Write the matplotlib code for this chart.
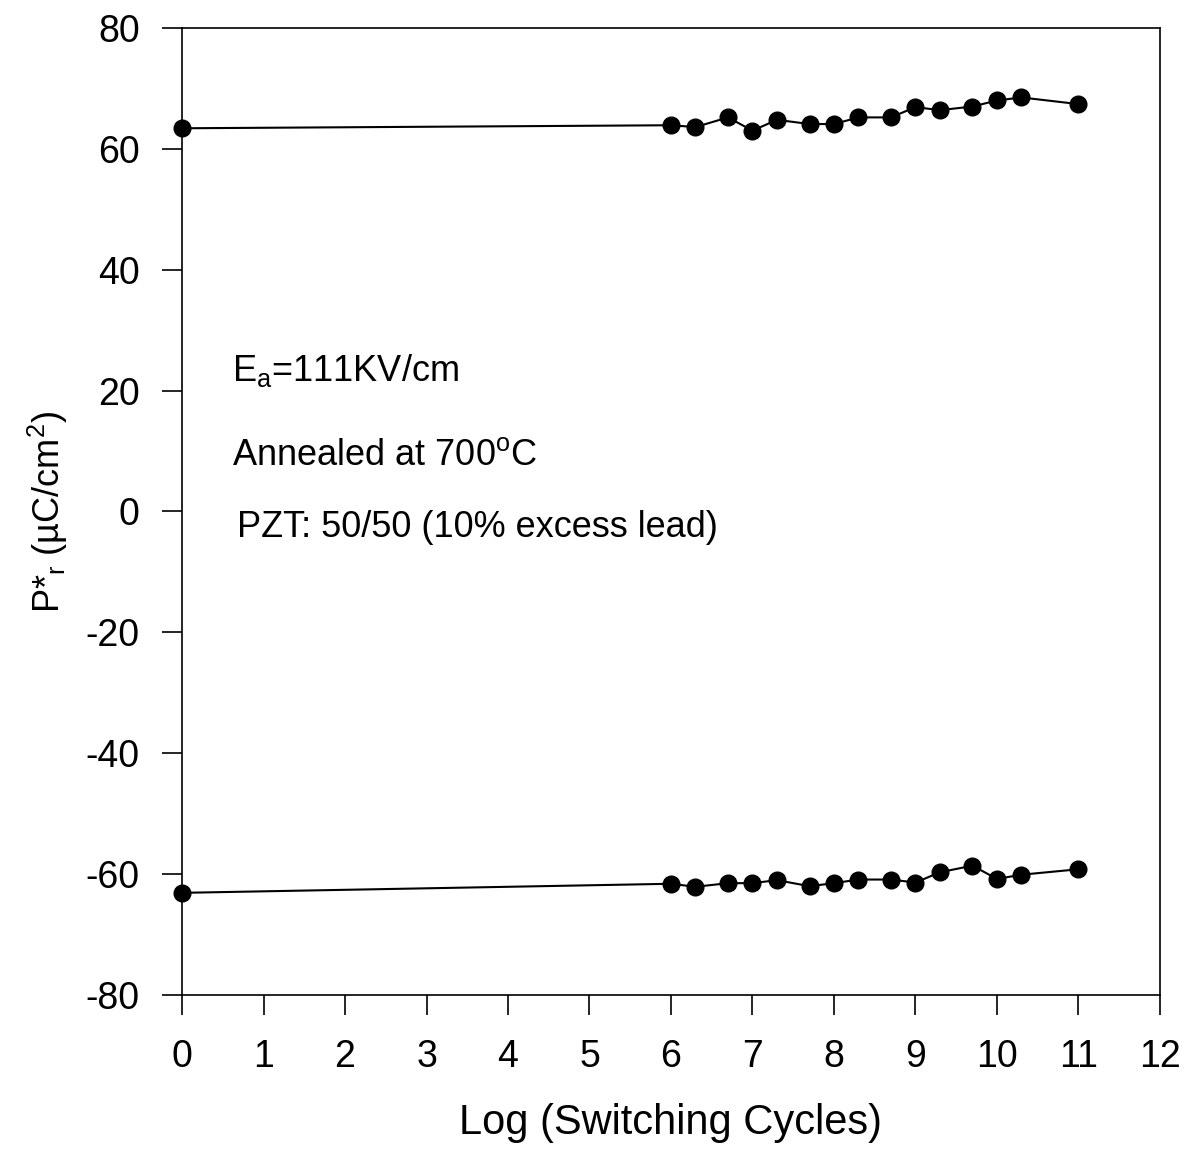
import matplotlib
matplotlib.use("Agg")
import matplotlib.pyplot as plt

plt.rcParams['font.family'] = ['Liberation Sans', 'DejaVu Sans']
plt.rcParams['mathtext.default'] = 'regular'
plt.rcParams['axes.unicode_minus'] = False

log_cycles = [0, 6.0, 6.3, 6.7, 7.0, 7.3, 7.7, 8.0, 8.3, 8.7, 9.0, 9.3, 9.7, 10.0, 10.3, 11.0]
pr_pos = [63.4, 63.9, 63.6, 65.2, 63.0, 64.8, 64.1, 64.1, 65.2, 65.2, 66.9, 66.4, 67.0, 68.0, 68.5, 67.4]
pr_neg = [-63.1, -61.6, -62.1, -61.5, -61.5, -61.0, -62.0, -61.5, -60.9, -60.9, -61.4, -59.7, -58.6, -60.8, -60.1, -59.2]
xticks = list(range(0, 13))
yticks = list(range(-80, 81, 20))

fig = plt.figure(figsize=(11.86, 11.5), dpi=100)
ax = fig.add_axes([0.1535, 0.1348, 0.978 - 0.1535, 0.9757 - 0.1348])

for series in (pr_pos, pr_neg):
    ax.plot(log_cycles, series, color='black', lw=1.5, marker='o', markersize=12,
            clip_on=False, zorder=3)

ax.set_xlim(0, 12)
ax.set_ylim(-80, 80)
ax.set_xticks(xticks)
ax.set_yticks(yticks)
ax.tick_params(axis='both', direction='out', length=14.5, width=1.2, labelsize=27)
ax.tick_params(axis='x', pad=17)
ax.tick_params(axis='y', pad=16)
ax.tick_params(top=False, right=False)
for s in ax.spines.values():
    s.set_linewidth(1.2)

ax.set_xlabel('Log (Switching Cycles)', fontsize=30, labelpad=20)
ax.set_ylabel(r'P*$_{r}$ (µC/cm$^{2}$)', fontsize=26, labelpad=11)

ax.text(0.61, 23.4, r'E$_{a}$=111KV/cm', fontsize=26, va='center', ha='left')
ax.text(0.61, 9.3, r'Annealed at 700$^{o}$C', fontsize=26, va='center', ha='left')
ax.text(0.67, -2.7, 'PZT: 50/50 (10% excess lead)', fontsize=26, va='center', ha='left')

fig.savefig('out.png', dpi=100, facecolor='white')
